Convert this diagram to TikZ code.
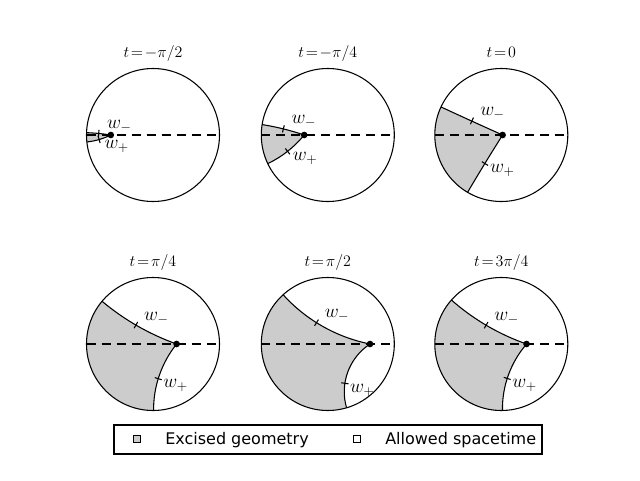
\documentclass[tikz,border=0pt]{standalone}
\usepackage{fontspec}
\newfontfamily\legendfont{DejaVu Sans}
\usetikzlibrary{calc}

\tikzset{
  rim/.style = {line width = 0.8pt},
  geod/.style = {line width = 0.8pt},
  excised/.style = {fill = black!20},
  axisline/.style = {line width = 0.8pt, dash pattern = on 6.75pt off 4.5pt},
  tickmark/.style = {line width = 0.8pt},
  wlabel/.style = {anchor = base west, inner sep = 0pt, font = \fontsize{14.4}{17}\selectfont},
  ttl/.style = {anchor = base, inner sep = 0pt, font = \fontsize{12}{14}\selectfont},
  legendtext/.style = {anchor = base west, inner sep = 0pt, font = \legendfont\fontsize{12}{14}\selectfont}
}

% geodesic of the disc from (#1,0) to the rim at angle #2
\newcommand{\geo}[2]{%
  \pgfmathsetmacro\gx{((#1)*(#1)+1)/(2*(#1))}%
  \pgfmathsetmacro\gy{(1-(\gx)*cos(#2))/sin(#2)}%
  \pgfmathsetmacro\gr{sqrt((\gx)*(\gx)+(\gy)*(\gy)-1)}%
  \pgfmathsetmacro\gs{atan2(-(\gy),(#1)-(\gx))}%
  \pgfmathsetmacro\gd{mod(atan2(sin(#2)-(\gy),cos(#2)-(\gx))-(\gs)+540,360)-180}%
}

% centre x, centre y, title, dot, upper rim angle, lower rim angle, tick positions
\newcommand{\panel}[8]{%
  \geo{#4}{#5}\let\ux\gx \let\uy\gy \let\ur\gr \let\us\gs \let\ud\gd
  \geo{#4}{#6}\let\lx\gx \let\ly\gy \let\lr\gr \let\ls\gs \let\ld\gd
  \pgfmathsetmacro\le{(\ls)+(\ld)}
  \pgfmathsetmacro\um{(\us)+#7*(\ud)}
  \pgfmathsetmacro\lm{(\ls)+#8*(\ld)}
  \pgfmathsetmacro\uin{\ur-0.055}\pgfmathsetmacro\uout{\ur+0.055}
  \pgfmathsetmacro\lin{\lr-0.055}\pgfmathsetmacro\lout{\lr+0.055}
  \begin{scope}[shift={(#1,#2)}, scale=66.5]
    \fill[excised] (#4,0) arc[start angle=\us, delta angle=\ud, radius=\ur]
      arc[start angle=#5, end angle=#6, radius=1]
      arc[start angle=\le, delta angle=-\ld, radius=\lr] -- cycle;
    \draw[rim] (0,0) circle (1);
    \draw[axisline] (-1,0) -- (1,0);
    \draw[geod] (#4,0) arc[start angle=\us, delta angle=\ud, radius=\ur];
    \draw[geod] (#4,0) arc[start angle=\ls, delta angle=\ld, radius=\lr];
    \fill (#4,0) circle (0.05);
    \coordinate (um) at ($(\ux,\uy)+(\um:\ur)$);
    \coordinate (lm) at ($(\lx,\ly)+(\lm:\lr)$);
    \draw[tickmark] ($(\ux,\uy)+(\um:\uin)$) -- ($(\ux,\uy)+(\um:\uout)$);
    \draw[tickmark] ($(\lx,\ly)+(\lm:\lin)$) -- ($(\lx,\ly)+(\lm:\lout)$);
    \node[wlabel] (wminus) at ($(um)+(0.12,0.075)$) {$w_-$};
    \node[wlabel] (wplus) at ($(lm)+(0.075,-0.135)$) {$w_+$};
    \node[ttl] (title) at (0,1.158) {#3};
  \end{scope}
}

\begin{document}
\begin{tikzpicture}[x=0.75pt, y=0.75pt]
\useasboundingbox (0,0) rectangle (640,480);
\panel{153}{345}{$t\!=\!-\pi/2$}{-0.635}{178}{186}{0.5}{0.5}
\panel{327.8}{345}{$t\!=\!-\pi/4$}{-0.355}{171}{205.5}{0.5}{0.5}
\panel{501.3}{345}{$t\!=\!0$}{0.02}{155}{239.5}{0.5}{0.5}
\panel{153}{136}{$t\!=\!\pi/4$}{0.355}{140}{270.5}{0.52}{0.55}
\panel{327.8}{136}{$t\!=\!\pi/2$}{0.635}{132.2}{286.4}{0.57}{0.66}
\panel{501.3}{136}{$t\!=\!3\pi/4$}{0.38}{138.6}{271}{0.51}{0.55}
% legend
\draw[line width = 0.8pt] (114,26) rectangle (542,55);
\draw[fill = black!20, line width = 0.5pt] (133.5,38) rectangle (140,44.5);
\node[legendtext] (exc) at (165,36) {Excised geometry};
\draw[fill = white, line width = 0.5pt] (353.5,38) rectangle (360,44.5);
\node[legendtext] (allow) at (385,36) {Allowed spacetime};
\end{tikzpicture}
\end{document}
